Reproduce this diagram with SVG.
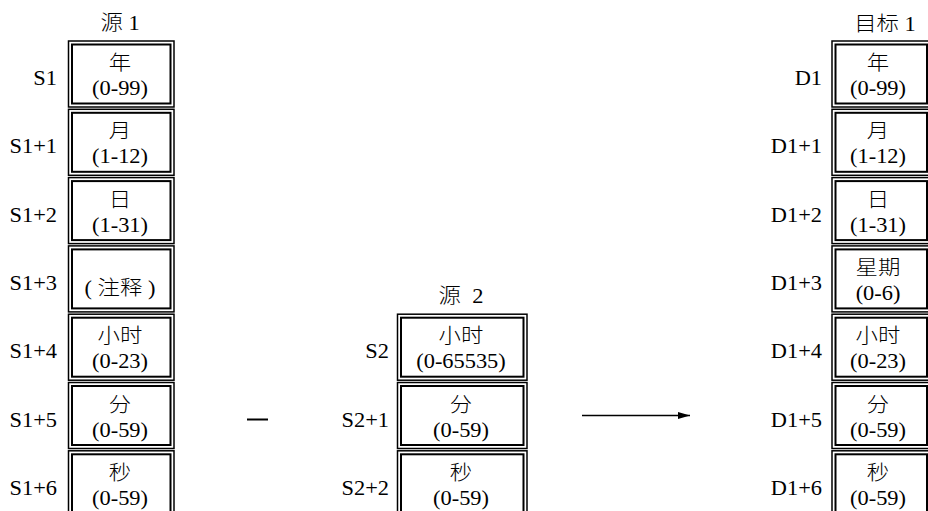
<svg xmlns="http://www.w3.org/2000/svg" width="928" height="511" viewBox="0 0 928 511">
<style>
.outer{fill:none;stroke:#000;stroke-width:1.5}
.inner{fill:none;stroke:#000;stroke-width:2}
.t{font-family:"Liberation Serif","Noto Sans CJK SC",serif;font-size:20px;font-weight:300;fill:#000;text-anchor:middle}
.l{font-family:"Liberation Serif","Noto Sans CJK SC",serif;font-size:20px;fill:#000;text-anchor:end}
.conn{stroke:#000;stroke-width:1.3;fill:none}
</style>
<defs>
<marker id="ah" markerWidth="12" markerHeight="8" refX="12" refY="4" orient="auto" markerUnits="userSpaceOnUse">
<path d="M0,0.5 L12,4 L0,7.5 Z" fill="#000"/>
</marker>
</defs>
<rect width="928" height="511" fill="#fff"/>

<!-- titles -->
<text class="t" transform="translate(120 30) scale(1.12 1)">源 1</text>
<text class="t" transform="translate(461 303) scale(1.12 1)" xml:space="preserve" style="white-space:pre">源  2</text>
<text class="t" transform="translate(885 31) scale(1.12 1)">目标 1</text>

<!-- source 1 -->
<g id="S1">
<rect class="outer" x="68.5" y="41" width="105.5" height="66"/><rect class="inner" x="72" y="44.5" width="98.5" height="59"/>
<text class="l" transform="translate(57 85) scale(1.12 1)">S1</text>
<text class="t" transform="translate(120 70) scale(1.12 1)">年</text>
<text class="t" transform="translate(120 95) scale(1.12 1)">(0-99)</text>
</g>
<g id="S1p1">
<rect class="outer" x="68.5" y="109.3" width="105.5" height="66"/><rect class="inner" x="72" y="112.8" width="98.5" height="59"/>
<text class="l" transform="translate(57 153.3) scale(1.12 1)">S1+1</text>
<text class="t" transform="translate(120 138.3) scale(1.12 1)">月</text>
<text class="t" transform="translate(120 163.3) scale(1.12 1)">(1-12)</text>
</g>
<g id="S1p2">
<rect class="outer" x="68.5" y="177.6" width="105.5" height="66"/><rect class="inner" x="72" y="181.1" width="98.5" height="59"/>
<text class="l" transform="translate(57 221.6) scale(1.12 1)">S1+2</text>
<text class="t" transform="translate(120 206.6) scale(1.12 1)">日</text>
<text class="t" transform="translate(120 231.6) scale(1.12 1)">(1-31)</text>
</g>
<g id="S1p3">
<rect class="outer" x="68.5" y="245.9" width="105.5" height="66"/><rect class="inner" x="72" y="249.4" width="98.5" height="59"/>
<text class="l" transform="translate(57 289.9) scale(1.12 1)">S1+3</text>
<text class="t" transform="translate(120 294.9) scale(1.12 1)">( 注释 )</text>
</g>
<g id="S1p4">
<rect class="outer" x="68.5" y="314.2" width="105.5" height="66"/><rect class="inner" x="72" y="317.7" width="98.5" height="59"/>
<text class="l" transform="translate(57 358.2) scale(1.12 1)">S1+4</text>
<text class="t" transform="translate(120 343.2) scale(1.12 1)">小时</text>
<text class="t" transform="translate(120 368.2) scale(1.12 1)">(0-23)</text>
</g>
<g id="S1p5">
<rect class="outer" x="68.5" y="382.5" width="105.5" height="66"/><rect class="inner" x="72" y="386" width="98.5" height="59"/>
<text class="l" transform="translate(57 426.5) scale(1.12 1)">S1+5</text>
<text class="t" transform="translate(120 411.5) scale(1.12 1)">分</text>
<text class="t" transform="translate(120 436.5) scale(1.12 1)">(0-59)</text>
</g>
<g id="S1p6">
<rect class="outer" x="68.5" y="450.8" width="105.5" height="66"/><rect class="inner" x="72" y="454.3" width="98.5" height="59"/>
<text class="l" transform="translate(57 494.8) scale(1.12 1)">S1+6</text>
<text class="t" transform="translate(120 479.8) scale(1.12 1)">秒</text>
<text class="t" transform="translate(120 504.8) scale(1.12 1)">(0-59)</text>
</g>

<!-- source 2 -->
<g id="S2">
<rect class="outer" x="397.5" y="314.2" width="129.5" height="66"/><rect class="inner" x="401" y="317.7" width="122.5" height="59"/>
<text class="l" transform="translate(389 358.2) scale(1.12 1)">S2</text>
<text class="t" transform="translate(461 343.2) scale(1.12 1)">小时</text>
<text class="t" transform="translate(461 368.2) scale(1.12 1)">(0-65535)</text>
</g>
<g id="S2p1">
<rect class="outer" x="397.5" y="382.5" width="129.5" height="66"/><rect class="inner" x="401" y="386" width="122.5" height="59"/>
<text class="l" transform="translate(389 426.5) scale(1.12 1)">S2+1</text>
<text class="t" transform="translate(461 411.5) scale(1.12 1)">分</text>
<text class="t" transform="translate(461 436.5) scale(1.12 1)">(0-59)</text>
</g>
<g id="S2p2">
<rect class="outer" x="397.5" y="450.8" width="129.5" height="66"/><rect class="inner" x="401" y="454.3" width="122.5" height="59"/>
<text class="l" transform="translate(389 494.8) scale(1.12 1)">S2+2</text>
<text class="t" transform="translate(461 479.8) scale(1.12 1)">秒</text>
<text class="t" transform="translate(461 504.8) scale(1.12 1)">(0-59)</text>
</g>

<!-- destination 1 -->
<g id="D1">
<rect class="outer" x="832" y="41" width="100" height="66"/><rect class="inner" x="835.5" y="44.5" width="91.5" height="59"/>
<text class="l" transform="translate(822 85) scale(1.12 1)">D1</text>
<text class="t" transform="translate(878 70) scale(1.12 1)">年</text>
<text class="t" transform="translate(878 95) scale(1.12 1)">(0-99)</text>
</g>
<g id="D1p1">
<rect class="outer" x="832" y="109.3" width="100" height="66"/><rect class="inner" x="835.5" y="112.8" width="91.5" height="59"/>
<text class="l" transform="translate(822 153.3) scale(1.12 1)">D1+1</text>
<text class="t" transform="translate(878 138.3) scale(1.12 1)">月</text>
<text class="t" transform="translate(878 163.3) scale(1.12 1)">(1-12)</text>
</g>
<g id="D1p2">
<rect class="outer" x="832" y="177.6" width="100" height="66"/><rect class="inner" x="835.5" y="181.1" width="91.5" height="59"/>
<text class="l" transform="translate(822 221.6) scale(1.12 1)">D1+2</text>
<text class="t" transform="translate(878 206.6) scale(1.12 1)">日</text>
<text class="t" transform="translate(878 231.6) scale(1.12 1)">(1-31)</text>
</g>
<g id="D1p3">
<rect class="outer" x="832" y="245.9" width="100" height="66"/><rect class="inner" x="835.5" y="249.4" width="91.5" height="59"/>
<text class="l" transform="translate(822 289.9) scale(1.12 1)">D1+3</text>
<text class="t" transform="translate(878 274.9) scale(1.12 1)">星期</text>
<text class="t" transform="translate(878 299.9) scale(1.12 1)">(0-6)</text>
</g>
<g id="D1p4">
<rect class="outer" x="832" y="314.2" width="100" height="66"/><rect class="inner" x="835.5" y="317.7" width="91.5" height="59"/>
<text class="l" transform="translate(822 358.2) scale(1.12 1)">D1+4</text>
<text class="t" transform="translate(878 343.2) scale(1.12 1)">小时</text>
<text class="t" transform="translate(878 368.2) scale(1.12 1)">(0-23)</text>
</g>
<g id="D1p5">
<rect class="outer" x="832" y="382.5" width="100" height="66"/><rect class="inner" x="835.5" y="386" width="91.5" height="59"/>
<text class="l" transform="translate(822 426.5) scale(1.12 1)">D1+5</text>
<text class="t" transform="translate(878 411.5) scale(1.12 1)">分</text>
<text class="t" transform="translate(878 436.5) scale(1.12 1)">(0-59)</text>
</g>
<g id="D1p6">
<rect class="outer" x="832" y="450.8" width="100" height="66"/><rect class="inner" x="835.5" y="454.3" width="91.5" height="59"/>
<text class="l" transform="translate(822 494.8) scale(1.12 1)">D1+6</text>
<text class="t" transform="translate(878 479.8) scale(1.12 1)">秒</text>
<text class="t" transform="translate(878 504.8) scale(1.12 1)">(0-59)</text>
</g>

<!-- operator -->
<g id="minus">
<line x1="247" y1="419.5" x2="268" y2="419.5" stroke="#000" stroke-width="2"/>
</g>

<!-- connectors -->
<g id="connectors">
<line class="conn" x1="582" y1="415.5" x2="690" y2="415.5" marker-end="url(#ah)"/>
</g>
</svg>
